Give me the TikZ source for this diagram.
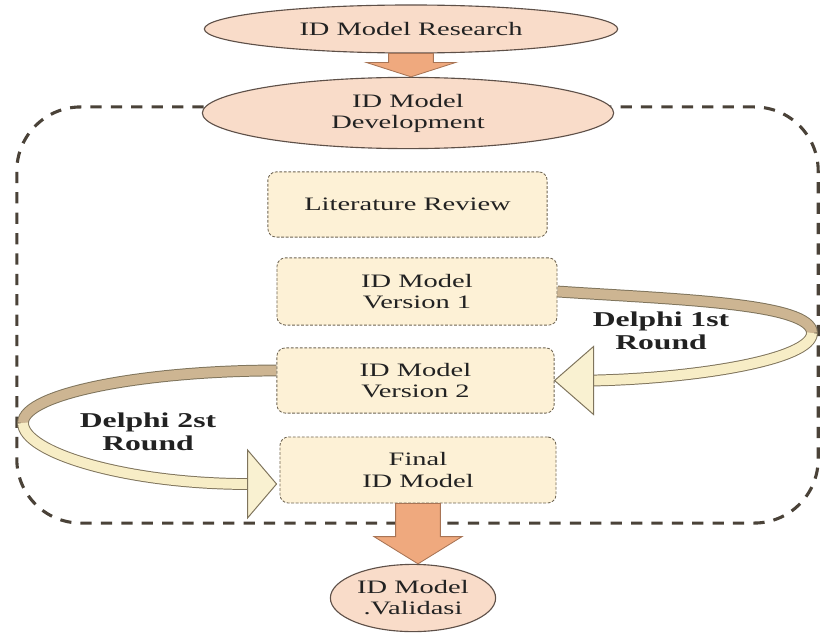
\documentclass[tikz,border=0pt]{standalone}
\usepackage{fontspec}
\setmainfont[FakeStretch=1.5]{Liberation Serif}
\usetikzlibrary{positioning,shapes.geometric,calc}

\definecolor{ellfill}{HTML}{F9DCC9}
\definecolor{ellline}{HTML}{5E5048}
\definecolor{boxfill}{HTML}{FDF1D6}
\definecolor{boxline}{HTML}{6E6452}
\definecolor{frameline}{HTML}{4A4238}
\definecolor{arrowfill}{HTML}{EFA97E}
\definecolor{arrowline}{HTML}{A87455}
\definecolor{ribbontan}{HTML}{CDB592}
\definecolor{ribboncream}{HTML}{F7EDC6}
\definecolor{ribbonline}{HTML}{7F745C}
\definecolor{inktext}{HTML}{222222}

\newcommand{\blockdown}[5]{%
  \path[blockarrow] let \p1=(#1), \p2=(#2) in
    (\x1-#3,\y1) -- (\x1+#3,\y1) -- (\x1+#3,\y2+#5) -- (\x1+#4,\y2+#5)
    -- (\x1,\y2) -- (\x1-#4,\y2+#5) -- (\x1-#3,\y2+#5) -- cycle;}

\begin{document}
\begin{tikzpicture}
    [
    x=0.025cm, y=-0.025cm,
    every node/.style={text=inktext, font=\fontsize{13.5pt}{15pt}\selectfont},
    ell/.style={ellipse, draw=ellline, fill=ellfill, line width=0.8pt, inner sep=0pt, align=center},
    stagebox/.style={rounded corners=6pt, draw=boxline, fill=boxfill, line width=0.6pt,
        dash pattern=on 2pt off 1.2pt, inner sep=0pt, align=center},
    devframe/.style={draw=frameline, line width=2.2pt, dash pattern=on 8pt off 6.5pt,
        rounded corners=1.6cm, inner sep=0pt},
    blockarrow/.style={fill=arrowfill, draw=arrowline, line width=0.6pt},
    ribbon edge/.style={draw=ribbonline, line width=8.4pt},
    ribbon top/.style={draw=ribbontan, line width=7pt},
    ribbon low/.style={draw=ribboncream, line width=7pt},
    ribbon head/.style={fill=ribboncream!80!white, draw=ribbonline, line width=0.7pt, line join=miter},
    roundlabel/.style={align=center, font=\fontsize{15pt}{16.4pt}\selectfont\bfseries},
    ]

    \useasboundingbox (0,0) rectangle (822,637);

    \node[devframe, minimum width=20.03cm, minimum height=10.4cm] (frame_dev) at (417.5,315) {};

    \node[ell, minimum width=10.33cm, minimum height=1.2cm] (ell_research) at (411,29)
    {ID Model Research};

    \node[ell, minimum width=10.28cm, minimum height=1.78cm] (ell_develop) at (408,113)
    {ID Model\\Development};

    \blockdown{ell_research.south}{ell_develop.north}{0.56cm}{1.12cm}{0.36cm}

    \node[stagebox, minimum width=6.98cm, minimum height=1.63cm] (box_review) at (407.5,204.5)
    {Literature Review};

    \node[stagebox, minimum width=7cm, minimum height=1.68cm] (box_v1) at (417,291.5)
    {ID Model\\Version 1};

    \node[stagebox, minimum width=6.93cm, minimum height=1.63cm] (box_v2) at (415.5,380.5)
    {ID Model\\Version 2};

    \node[stagebox, minimum width=6.9cm, minimum height=1.65cm] (box_final) at (418,470)
    {Final\\ID Model};

    \coordinate (turn_first) at (812,333);
    \coordinate (base_first) at ($(box_v2.east)+(39,0)$);
    \draw[ribbon edge] (box_v1.east) .. controls +(120,8) and +(0,-30) .. (turn_first)
        .. controls +(0,27) and +(100,-2) .. (base_first);
    \draw[ribbon top] (box_v1.east) .. controls +(120,8) and +(0,-30) .. (turn_first);
    \draw[ribbon low] (turn_first) .. controls +(0,27) and +(100,-2) .. (base_first);
    \draw[ribbon head] (box_v2.east) -- ($(base_first)+(0,-34)$) -- ($(base_first)+(0,34)$) -- cycle;

    \coordinate (start_second) at ($(box_v2.west)+(0,-10)$);
    \coordinate (turn_second) at (23,423);
    \coordinate (tip_second) at ($(box_final.west)+(-3,14)$);
    \coordinate (base_second) at ($(box_final.west)+(-32,14)$);
    \draw[ribbon edge] (start_second) .. controls +(-130,0) and +(0,-30) .. (turn_second)
        .. controls +(0,30) and +(-120,0) .. (base_second);
    \draw[ribbon top] (start_second) .. controls +(-130,0) and +(0,-30) .. (turn_second);
    \draw[ribbon low] (turn_second) .. controls +(0,30) and +(-120,0) .. (base_second);
    \draw[ribbon head] (tip_second) -- ($(base_second)+(0,-34)$) -- ($(base_second)+(0,34)$) -- cycle;

    \node[roundlabel] (lbl_first) at (661,331) {Delphi 1st\\Round};
    \node[roundlabel] (lbl_second) at (148,432) {Delphi 2st\\Round};

    \node[ell, minimum width=4.13cm, minimum height=1.68cm] (ell_validasi) at (413,598)
    {ID Model\\.Validasi};

    \blockdown{box_final.south}{ell_validasi.north}{0.56cm}{1.1cm}{0.68cm}
\end{tikzpicture}
\end{document}
